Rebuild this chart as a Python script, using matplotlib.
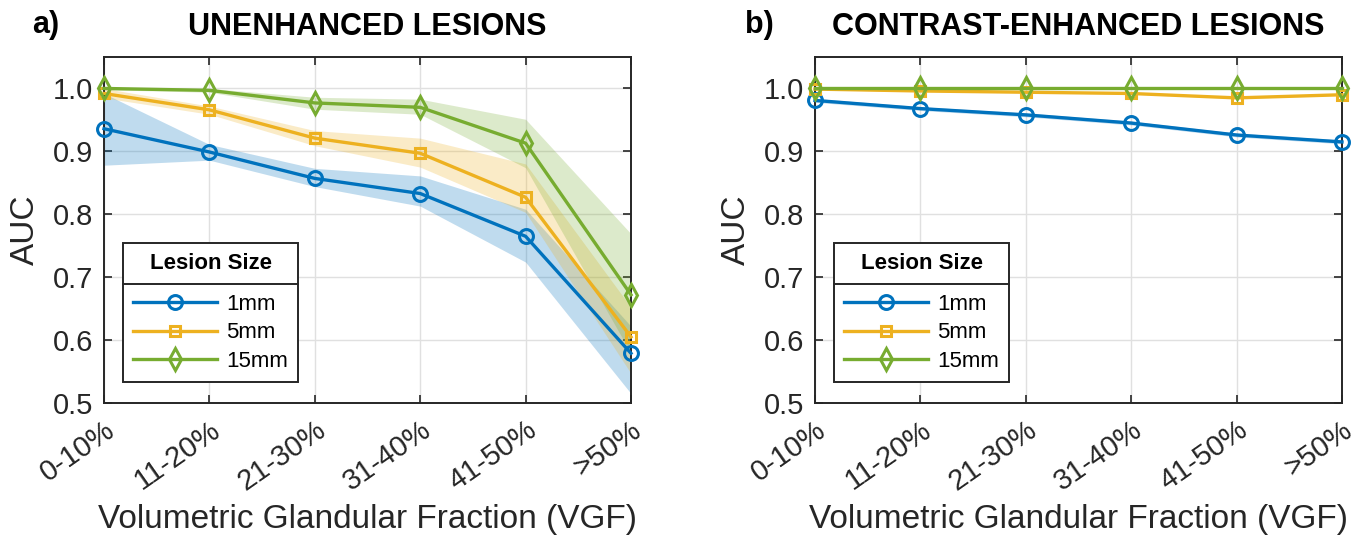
import matplotlib
matplotlib.use("Agg")
import matplotlib.pyplot as plt
from matplotlib.lines import Line2D
from matplotlib.ticker import FormatStrFormatter

plt.rcParams['font.family'] = ['Liberation Sans', 'DejaVu Sans']

# Volumetric glandular fraction bins and lesion sizes
vgf_bins = ['0-10%', '11-20%', '21-30%', '31-40%', '41-50%', '>50%']
lesion_sizes = ['1mm', '5mm', '15mm']

# a) Unenhanced lesions: mean AUC with lower / upper confidence bounds
unenh_1mm = [0.936, 0.899, 0.857, 0.833, 0.765, 0.579]
unenh_1mm_lo = [0.878, 0.886, 0.844, 0.813, 0.724, 0.515]
unenh_1mm_hi = [0.992, 0.911, 0.873, 0.861, 0.808, 0.622]

unenh_5mm = [0.992, 0.966, 0.921, 0.897, 0.827, 0.605]
unenh_5mm_lo = [0.985, 0.959, 0.909, 0.875, 0.803, 0.547]
unenh_5mm_hi = [1.000, 0.972, 0.933, 0.921, 0.880, 0.652]

unenh_15mm = [1.000, 0.997, 0.977, 0.970, 0.913, 0.672]
unenh_15mm_lo = [0.998, 0.994, 0.967, 0.959, 0.874, 0.579]
unenh_15mm_hi = [1.000, 1.000, 0.986, 0.983, 0.951, 0.769]

# b) Contrast-enhanced lesions
ce_1mm = [0.981, 0.968, 0.958, 0.945, 0.926, 0.915]
ce_1mm_lo = [0.978, 0.965, 0.955, 0.942, 0.923, 0.912]
ce_1mm_hi = [0.984, 0.971, 0.961, 0.948, 0.929, 0.918]

ce_5mm = [0.999, 0.996, 0.994, 0.992, 0.985, 0.990]
ce_5mm_lo = [0.998, 0.995, 0.993, 0.991, 0.984, 0.989]
ce_5mm_hi = [1.000, 0.997, 0.995, 0.993, 0.986, 0.991]

ce_15mm = [1.000, 1.000, 1.000, 1.000, 1.000, 1.000]
ce_15mm_lo = [0.999, 0.999, 0.999, 0.999, 0.999, 0.999]
ce_15mm_hi = [1.000, 1.000, 1.000, 1.000, 1.000, 1.000]

colors = ['#0072BD', '#EDB120', '#77AC30']
markers = ['o', 's', 'd']
marker_sizes = [10, 7, 11]
text_color = '#262626'

fig = plt.figure(figsize=(13.71, 5.41), dpi=100)
W, H = 1371.0, 541.0

ax_a = fig.add_axes([104 / W, 1 - 403 / H, 527 / W, 346 / H])
ax_b = fig.add_axes([815 / W, 1 - 403 / H, 527 / W, 346 / H])

panels = [
    (ax_a, 'UNENHANCED LESIONS', 'a)',
     [(unenh_1mm, unenh_1mm_lo, unenh_1mm_hi),
      (unenh_5mm, unenh_5mm_lo, unenh_5mm_hi),
      (unenh_15mm, unenh_15mm_lo, unenh_15mm_hi)]),
    (ax_b, 'CONTRAST-ENHANCED LESIONS', 'b)',
     [(ce_1mm, ce_1mm_lo, ce_1mm_hi),
      (ce_5mm, ce_5mm_lo, ce_5mm_hi),
      (ce_15mm, ce_15mm_lo, ce_15mm_hi)]),
]

x = list(range(len(vgf_bins)))
legends = []
for ax, title, tag, series in panels:
    for (mean, lo, hi), c in zip(series, colors):
        ax.fill_between(x, lo, hi, color=c, alpha=0.25, linewidth=0, zorder=2)
    handles = []
    for (mean, lo, hi), c, m, ms, name in zip(series, colors, markers, marker_sizes, lesion_sizes):
        h, = ax.plot(x, mean, color=c, marker=m, markersize=ms, markerfacecolor='none',
                     markeredgewidth=2.2, linewidth=2.4, label=name, zorder=3, clip_on=False)
        handles.append(h)

    ax.set_xlim(0, len(vgf_bins) - 1)
    ax.set_ylim(0.5, 1.05)
    ax.set_yticks([0.5, 0.6, 0.7, 0.8, 0.9, 1.0])
    ax.yaxis.set_major_formatter(FormatStrFormatter('%.1f'))
    ax.set_xticks(x)
    ax.set_xticklabels(vgf_bins, rotation=35, ha='right', rotation_mode='anchor')
    ax.tick_params(direction='in', top=True, right=True, length=6, width=1.2,
                   labelsize=21, colors=text_color, pad=8)
    ax.tick_params(axis='x', pad=9)
    for lbl in ax.get_xticklabels():
        lbl.set_color(text_color)
    ax.grid(True, color='#e0e0e0', linewidth=1.0, zorder=0)
    ax.set_axisbelow(True)
    for sp in ax.spines.values():
        sp.set_color(text_color)
        sp.set_linewidth(1.4)

    ax.set_xlabel('Volumetric Glandular Fraction (VGF)', fontsize=24, color=text_color, labelpad=6)
    ax.set_ylabel('AUC', fontsize=24, color=text_color, labelpad=8)
    ax.set_title(title, fontsize=22, fontweight='bold', pad=16)

    leg = ax.legend(handles=handles, title='Lesion Size', loc='upper left',
                    bbox_to_anchor=(0.036, 0.462), fontsize=16, frameon=True,
                    fancybox=False, framealpha=1, edgecolor=text_color,
                    handlelength=3.8, handletextpad=0.4, labelspacing=0.35,
                    borderpad=0.45, borderaxespad=0)
    leg.get_title().set_fontweight('bold')
    leg.get_title().set_fontsize(16)
    leg.get_frame().set_linewidth(1.4)
    leg._legend_box.sep = 14
    legends.append(leg)

fig.text(32 / W, 1 - 25 / H, 'a)', fontsize=22, fontweight='bold', va='center', ha='left')
fig.text(745 / W, 1 - 25 / H, 'b)', fontsize=22, fontweight='bold', va='center', ha='left')

# Separator line between the legend title and its entries
fig.canvas.draw()
renderer = fig.canvas.get_renderer()
for leg in legends:
    frame = leg.get_frame().get_window_extent(renderer)
    tbox = leg.get_title().get_window_extent(renderer)
    entries = [t.get_window_extent(renderer) for t in leg.get_texts()]
    y_sep = (tbox.y0 + max(e.y1 for e in entries)) / 2.0
    fig.add_artist(Line2D([frame.x0 / W, frame.x1 / W], [y_sep / H, y_sep / H],
                          transform=fig.transFigure, color=text_color, linewidth=1.4,
                          zorder=10))

fig.savefig('out.png', dpi=100)
